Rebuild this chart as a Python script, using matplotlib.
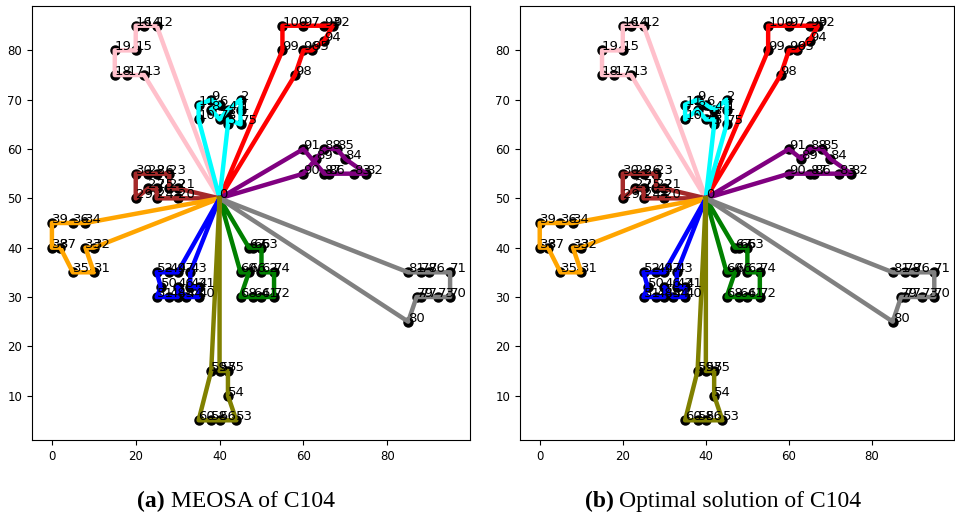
import matplotlib
matplotlib.use("Agg")
import matplotlib.pyplot as plt

# Node coordinates (Solomon C104 layout), node 0 is the depot
node_x = [40, 45, 45, 42, 42, 42, 40, 40, 38, 38, 35, 35, 25, 22, 22, 20, 20, 18, 15, 15,
          30, 30, 28, 28, 25, 25, 25, 23, 23, 20, 20, 10, 10, 8, 8, 5, 5, 2, 0, 0,
          35, 35, 33, 33, 32, 30, 30, 30, 28, 28, 26, 25, 25, 44, 42, 42, 40, 40, 38, 38,
          35, 50, 50, 50, 48, 48, 47, 47, 45, 45, 95, 95, 53, 92, 53, 45, 90, 88, 88, 87,
          85, 85, 75, 72, 70, 68, 66, 65, 65, 63, 60, 60, 67, 65, 65, 62, 60, 60, 58, 55, 55]
node_y = [50, 68, 70, 66, 68, 65, 69, 66, 68, 70, 66, 69, 85, 75, 85, 80, 85, 75, 75, 80,
          50, 52, 52, 55, 50, 52, 55, 52, 55, 50, 55, 35, 40, 40, 45, 35, 45, 40, 40, 45,
          30, 32, 32, 35, 30, 30, 32, 35, 30, 35, 32, 30, 35, 5, 10, 15, 5, 15, 5, 15,
          5, 30, 35, 40, 30, 40, 35, 40, 30, 35, 30, 35, 30, 30, 35, 65, 35, 30, 35, 30,
          25, 35, 55, 55, 58, 60, 55, 55, 60, 58, 55, 60, 85, 85, 82, 80, 80, 85, 75, 80, 85]

route_colors = ["pink", "red", "cyan", "purple", "brown", "orange", "blue", "green", "gray", "olive"]

routes_meosa = [
    [0, 13, 17, 18, 19, 15, 16, 14, 12, 0],
    [0, 98, 96, 95, 94, 92, 93, 97, 100, 99, 0],
    [0, 10, 11, 9, 6, 8, 7, 4, 2, 1, 75, 3, 5, 0],
    [0, 90, 89, 88, 85, 84, 82, 83, 86, 87, 91, 0],
    [0, 20, 24, 25, 27, 29, 30, 28, 26, 23, 22, 21, 0],
    [0, 32, 33, 31, 35, 37, 38, 39, 36, 34, 0],
    [0, 43, 42, 41, 40, 44, 46, 45, 48, 51, 50, 52, 49, 47, 0],
    [0, 67, 65, 63, 62, 74, 72, 61, 64, 68, 66, 69, 0],
    [0, 81, 78, 76, 71, 70, 73, 77, 79, 80, 0],
    [0, 57, 55, 54, 53, 56, 58, 60, 59, 0],
]

routes_optimal = [
    [0, 13, 17, 18, 19, 15, 16, 14, 12, 0],
    [0, 98, 96, 95, 94, 92, 93, 97, 100, 99, 0],
    [0, 5, 3, 7, 8, 10, 11, 9, 6, 4, 2, 1, 75, 0],
    [0, 90, 87, 86, 83, 82, 84, 85, 88, 89, 91, 0],
    [0, 20, 24, 25, 27, 29, 30, 28, 26, 23, 22, 21, 0],
    [0, 32, 33, 31, 35, 37, 38, 39, 36, 34, 0],
    [0, 43, 42, 41, 40, 44, 46, 45, 48, 51, 50, 52, 49, 47, 0],
    [0, 67, 65, 63, 62, 74, 72, 61, 64, 68, 66, 69, 0],
    [0, 81, 78, 76, 71, 70, 73, 77, 79, 80, 0],
    [0, 57, 55, 54, 53, 56, 58, 60, 59, 0],
]

fig = plt.figure(figsize=(9.55, 5.16), dpi=100)
ax1 = fig.add_axes([32 / 955, 76 / 516, 438 / 955, 434 / 516])
ax2 = fig.add_axes([520 / 955, 76 / 516, 434 / 955, 434 / 516])


def draw(ax, routes):
    ax.plot(node_x[1:], node_y[1:], 'o', color='black', ms=6.5, zorder=2, ls='none')
    for r, c in zip(routes, route_colors):
        ax.plot([node_x[i] for i in r], [node_y[i] for i in r], color=c, lw=3.2, zorder=3)
    for i, (x, y) in enumerate(zip(node_x, node_y)):
        ax.text(x, y, str(i), fontsize=9.5, color='black', zorder=4)
    ax.margins(0.05)
    ax.set_xticks([0, 20, 40, 60, 80])
    ax.set_yticks([10, 20, 30, 40, 50, 60, 70, 80])
    ax.tick_params(labelsize=8.5)


draw(ax1, routes_meosa)
draw(ax2, routes_optimal)

serif = ["Liberation Serif", "DejaVu Serif"]
yb = 1 - 507 / 516
fig.text(165 / 955, yb, "(a)", fontsize=17, fontweight='bold', family=serif, ha='right', va='baseline')
fig.text(171 / 955, yb, "MEOSA of C104", fontsize=17, family=serif, ha='left', va='baseline')
fig.text(614 / 955, yb, "(b)", fontsize=17, fontweight='bold', family=serif, ha='right', va='baseline')
fig.text(619 / 955, yb, "Optimal solution of C104", fontsize=17, family=serif, ha='left', va='baseline')

fig.savefig("out.png", dpi=100)
